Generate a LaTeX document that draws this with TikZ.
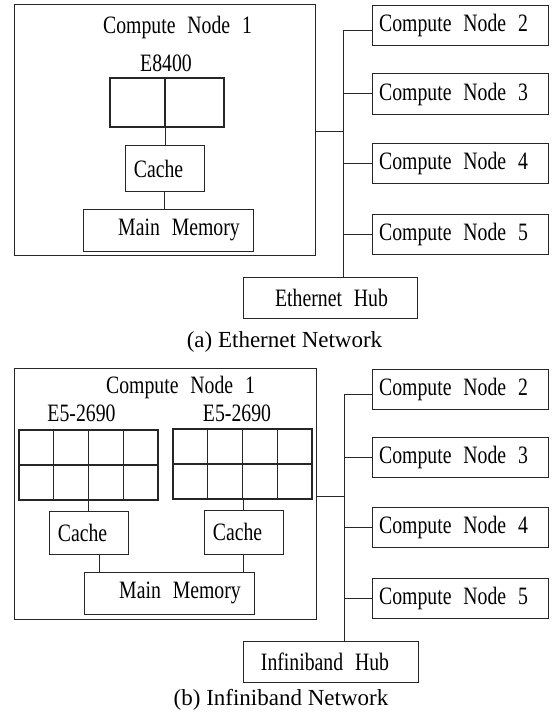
\documentclass[tikz,border=0pt]{standalone}
\usepackage{fontspec}
\setmainfont{Liberation Serif}
\newfontfamily\nodefont{Liberation Serif}[FakeStretch=0.79,WordSpace=2.4]
\usetikzlibrary{calc}
\begin{document}
\begin{tikzpicture}[x=1pt,y=-1pt,
  box/.style={draw=black!85,line width=1pt,inner sep=0pt,outer sep=0pt,font={\nodefont\fontsize{25}{29}\selectfont}},
  lbl/.style={inner sep=0pt,font={\nodefont\fontsize{25}{29}\selectfont}},
  wire/.style={draw=black!85,line width=1pt},
  gridln/.style={draw=black!85,line width=1.1pt},
  captxt/.style={inner sep=0pt,font={\fontsize{23}{27}\selectfont}},
  txs/.style={execute at begin node={\hspace*{#1}}}
]
\path[use as bounding box] (0,0) rectangle (551,722);

% ---------- (a) ----------
\node[box,minimum width=301pt,minimum height=250pt] (cn1a) at (164.5,130) {};
\node[lbl] (t1a) at (177.5,27) {Compute Node 1};
\node[lbl] (ea) at (166,63) {E8400};
\node[box,line width=2pt,minimum width=114pt,minimum height=49pt] (cpua) at (167,102.5) {};
\draw[line width=2pt,draw=black!85] ([xshift=-2pt]cpua.north) -- ([xshift=-2pt]cpua.south);
\node[box,minimum width=79pt,minimum height=45pt,txs=-12pt] (cachea) at (164.5,168.5) {Cache};
\node[box,minimum width=170pt,minimum height=42pt,txs=22pt] (mema) at (168,230) {Main Memory};
\draw[wire] ([xshift=-2pt]cpua.south) -- ([xshift=-2pt]cpua.south |- cachea.north);
\draw[wire] (cachea.south) -- (cachea.south |- mema.north);

\node[box,minimum width=176pt,minimum height=40.5pt,txs=-13pt] (n2a) at (460,25.5) {Compute Node 2};
\node[box,minimum width=176pt,minimum height=40.5pt,txs=-13pt] (n3a) at (460,94) {Compute Node 3};
\node[box,minimum width=176pt,minimum height=40.5pt,txs=-13pt] (n4a) at (460,163.5) {Compute Node 4};
\node[box,minimum width=176pt,minimum height=40.5pt,txs=-13pt] (n5a) at (460,234.5) {Compute Node 5};
\node[box,minimum width=174pt,minimum height=41pt,txs=3pt] (huba) at (330,297.5) {Ethernet Hub};
\coordinate (bta) at (343,31);
\coordinate (ja) at (343,132);
\draw[wire] (bta) -- (bta |- huba.north);
\draw[wire] (bta) -- (bta -| n2a.west);
\draw[wire] (n3a.west) -- (n3a.west -| bta);
\draw[wire] (n4a.west) -- (n4a.west -| bta);
\draw[wire] (n5a.west) -- (n5a.west -| bta);
\draw[wire] (ja) -- (ja -| cn1a.east);
\node[captxt] (capa) at (284.5,342) {(a) Ethernet Network};

% ---------- (b) ----------
\node[box,minimum width=302pt,minimum height=251pt] (cn1b) at (165,493.5) {};
\node[lbl] (t1b) at (180.5,387) {Compute Node 1};
\node[lbl] (eL) at (81.5,413) {E5-2690};
\node[lbl] (eR) at (237,413) {E5-2690};
\node[box,line width=1.1pt,minimum width=139pt,minimum height=70pt] (gL) at (88.5,465) {};
\node[box,line width=1.1pt,minimum width=139pt,minimum height=70pt] (gR) at (242.5,464) {};
\foreach \g in {gL,gR} {
  \draw[gridln] (\g.west) -- (\g.east);
  \foreach \f in {0.25,0.5,0.75}
    \draw[gridln] ($(\g.north west)!\f!(\g.north east)$) -- ($(\g.south west)!\f!(\g.south east)$);
}
\node[box,minimum width=79pt,minimum height=43pt,txs=-12pt] (cL) at (88.5,532.5) {Cache};
\node[box,minimum width=79pt,minimum height=44pt,txs=-12pt] (cR) at (243.5,532) {Cache};
\node[box,minimum width=170pt,minimum height=42pt,txs=22pt] (memb) at (169,593) {Main Memory};
\draw[wire] (cL.north) -- (cL.north |- gL.south);
\draw[wire] (cR.north) -- (cR.north |- gR.south);
\draw[wire] ([xshift=10.5pt]cL.south) -- ([xshift=10.5pt]cL.south |- memb.north);
\draw[wire] (cR.south) -- (cR.south |- memb.north);

\node[box,minimum width=176pt,minimum height=40pt,txs=-13pt] (n2b) at (460,389) {Compute Node 2};
\node[box,minimum width=176pt,minimum height=40pt,txs=-13pt] (n3b) at (460,457) {Compute Node 3};
\node[box,minimum width=176pt,minimum height=40pt,txs=-13pt] (n4b) at (460,527) {Compute Node 4};
\node[box,minimum width=176pt,minimum height=40pt,txs=-13pt] (n5b) at (460,598) {Compute Node 5};
\node[box,minimum width=175pt,minimum height=41pt,txs=-11pt] (hubb) at (330.5,661.5) {Infiniband Hub};
\coordinate (btb) at (344,394);
\coordinate (jb) at (344,496);
\draw[wire] (btb) -- (btb |- hubb.north);
\draw[wire] (btb) -- (btb -| n2b.west);
\draw[wire] (n3b.west) -- (n3b.west -| btb);
\draw[wire] (n4b.west) -- (n4b.west -| btb);
\draw[wire] (n5b.west) -- (n5b.west -| btb);
\draw[wire] (jb) -- (jb -| cn1b.east);
\node[captxt] (capb) at (281,700) {(b) Infiniband Network};
\end{tikzpicture}
\end{document}
